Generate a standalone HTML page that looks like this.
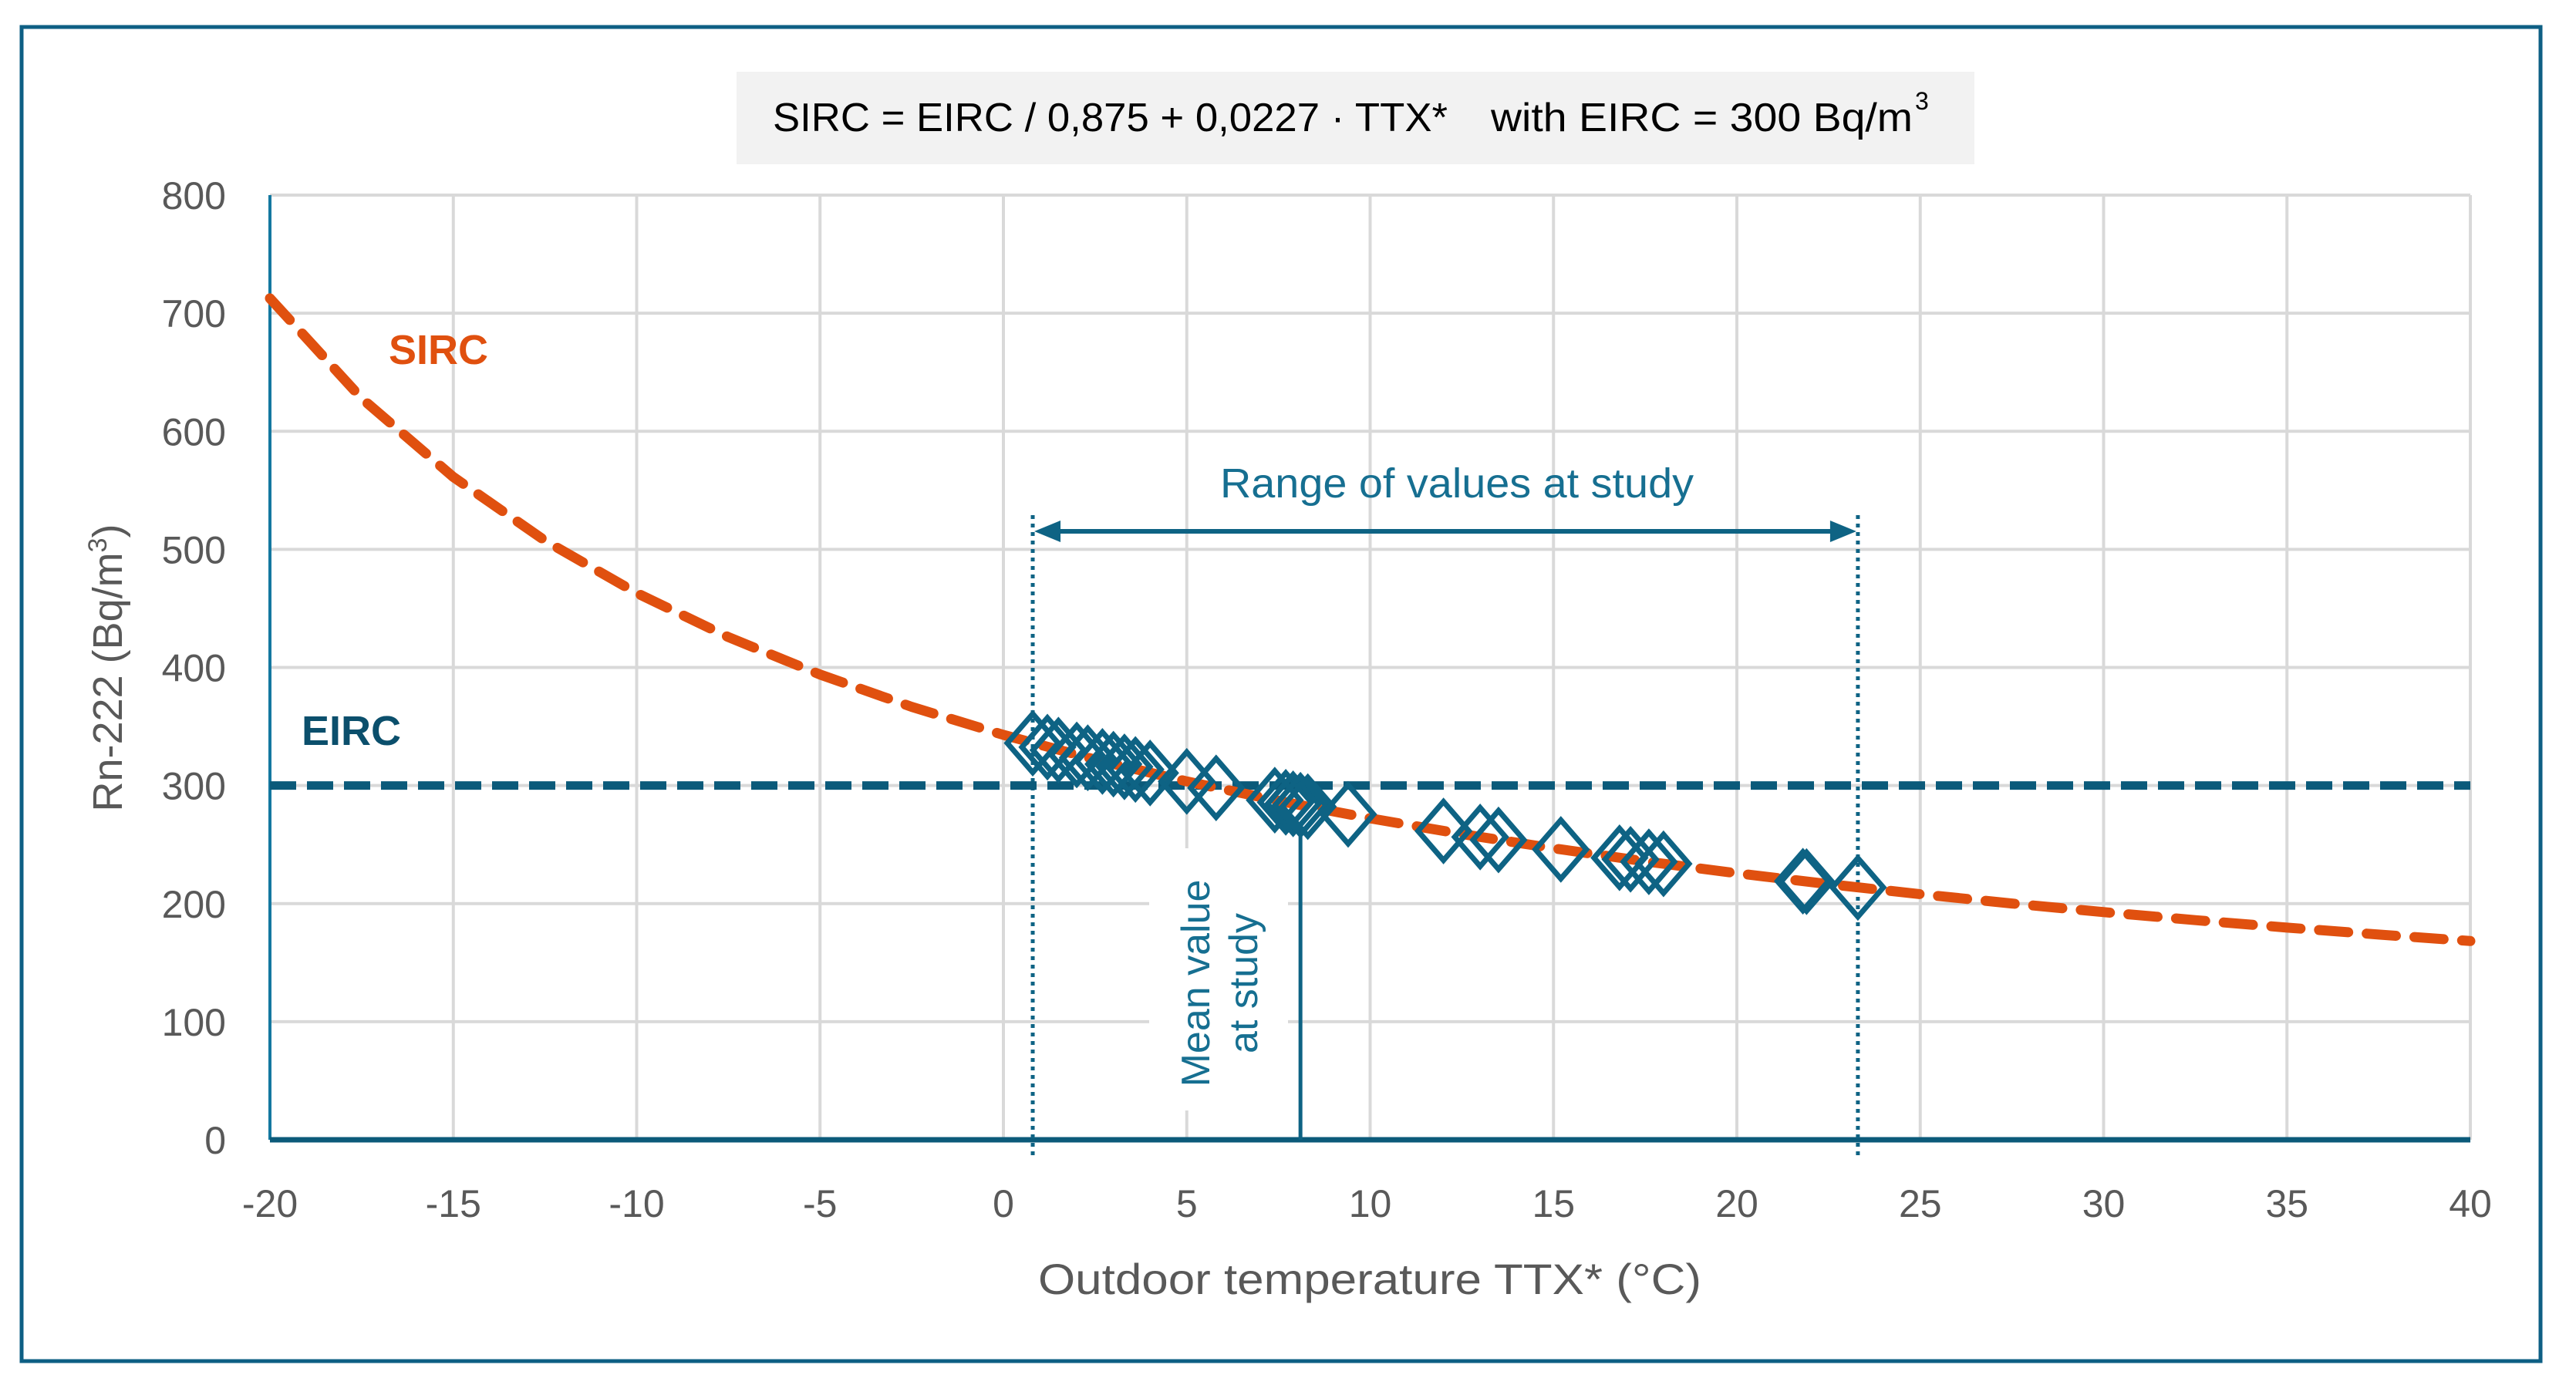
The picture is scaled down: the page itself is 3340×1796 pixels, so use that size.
<!DOCTYPE html>
<html><head><meta charset="utf-8"><style>
html,body{margin:0;padding:0;background:#fff;}
svg{display:block;font-family:"Liberation Sans",sans-serif;}
</style></head><body>
<svg id="chart" width="3340" height="1796" viewBox="0 0 3340 1796" xmlns="http://www.w3.org/2000/svg">
<rect x="28" y="35" width="3266" height="1730" fill="#fff" stroke="#0e5f84" stroke-width="5"/>
<rect x="955" y="93" width="1605" height="120" fill="#f2f2f2"/>
<text x="1002" y="170" font-size="52" fill="#000" textLength="875" lengthAdjust="spacingAndGlyphs">SIRC = EIRC / 0,875 + 0,0227 · TTX*</text>
<text x="1933" y="170" font-size="52" fill="#000" textLength="547" lengthAdjust="spacingAndGlyphs">with EIRC = 300 Bq/m</text>
<text x="2483" y="142" font-size="32" fill="#000">3</text>
<g id="grid"></g>
<g id="axes"></g>
<g id="marks"></g>
<text transform="translate(158,866) rotate(-90)" text-anchor="middle" font-size="54" fill="#595959">Rn-222 (Bq/m<tspan font-size="34" dy="-20">3</tspan><tspan dy="20">)</tspan></text>
<text x="1776" y="1678" text-anchor="middle" font-size="56" fill="#595959" textLength="860" lengthAdjust="spacingAndGlyphs">Outdoor temperature TTX* (°C)</text>
<text x="504" y="472" font-size="54" font-weight="bold" fill="#e0500f">SIRC</text>
<text x="391" y="966" font-size="54" font-weight="bold" fill="#0b4f6c">EIRC</text>
<text x="1889" y="645" text-anchor="middle" font-size="54" fill="#166f91" textLength="614" lengthAdjust="spacingAndGlyphs">Range of values at study</text>
</svg>
<script>
const xTicks = [-20,-15,-10,-5,0,5,10,15,20,25,30,35,40];
const yTicks = [0,100,200,300,400,500,600,700,800];
const sircT = [-20,-17.5,-15,-12.5,-10,-7.5,-5,-2.5,0,2.5,5,7.5,10,12.5,15,17.5,20,22.5,25,27.5,30,32.5,35,37.5,40];
const sircV = [712.6,627.9,561.3,507.4,463.0,425.7,394.0,366.6,342.9,322.0,303.5,287.0,272.2,258.9,246.8,235.8,225.7,216.5,208.0,200.1,192.8,186.0,179.7,173.8,168.3];
const eircValue = 300;
const obsT = [0.8,1.2,1.5,2.0,2.3,2.7,3.0,3.3,3.6,4.0,5.0,5.8,7.4,7.7,7.9,8.1,8.3,9.4,12.0,13.0,13.5,15.2,16.8,17.1,17.6,18.0,21.8,21.9,23.3];
const obsV = [335.9,332.5,330.0,325.9,323.5,320.4,318.1,315.8,313.6,310.6,303.5,298.0,287.6,285.8,284.5,283.3,282.1,275.6,261.5,256.4,253.9,245.9,238.8,237.5,235.4,233.7,219.0,218.6,213.7];
const rangeMin = 0.8, rangeMax = 23.3, meanT = 8.1;

const NS='http://www.w3.org/2000/svg';
const X0=350,X1=3203,Y0=1478,Y1=253;
const xs=v=>X0+(v+20)/60*(X1-X0);
const ys=v=>Y0-v/800*(Y0-Y1);
function mk(tag,attrs,parent){const e=document.createElementNS(NS,tag);for(const k in attrs)e.setAttribute(k,attrs[k]);parent.appendChild(e);return e;}
const grid=document.getElementById('grid'),axes=document.getElementById('axes'),marks=document.getElementById('marks'),svg=document.getElementById('chart');

xTicks.forEach(t=>{
  const l=mk('line',{x1:xs(t),x2:xs(t),y1:Y1,y2:Y0,stroke:'#d9d9d9','stroke-width':4},grid);
  
  
  const tx=mk('text',{x:xs(t),y:1578,'text-anchor':'middle','font-size':50,fill:'#595959'},axes);
  tx.textContent=t;
  
  
});
yTicks.forEach(t=>{
  const l=mk('line',{x1:X0,x2:X1,y1:ys(t),y2:ys(t),stroke:'#d9d9d9','stroke-width':4},grid);
  
  
  const tx=mk('text',{x:293,y:ys(t)+18,'text-anchor':'end','font-size':50,fill:'#595959'},axes);
  tx.textContent=t;
  
  
});
const bg=mk('rect',{x:1490,y:1100,width:180,height:340,fill:'#fff'},grid);



const ya=mk('line',{x1:X0,x2:X0,y1:Y1,y2:Y0,stroke:'#1478a0','stroke-width':4},axes);


const xa=mk('line',{x1:X0,x2:X1,y1:Y0,y2:Y0,stroke:'#0b5a7a','stroke-width':7},axes);



[rangeMin,rangeMax].forEach(t=>{
  const l=mk('line',{x1:xs(t),x2:xs(t),y1:668,y2:1502,stroke:'#0e6384','stroke-width':5,'stroke-dasharray':'5 6'},marks);
  
  
});
const ay=689;
const ar=mk('line',{x1:xs(rangeMin)+10,x2:xs(rangeMax)-10,y1:ay,y2:ay,stroke:'#0e6384','stroke-width':6},marks);


const h1=mk('path',{d:`M${xs(rangeMin)+2},${ay} l34,-14 l0,28 z`,fill:'#0e6384'},marks);


const h2=mk('path',{d:`M${xs(rangeMax)-2},${ay} l-34,-14 l0,28 z`,fill:'#0e6384'},marks);



const el=mk('line',{x1:X0,x2:X1,y1:ys(eircValue),y2:ys(eircValue),stroke:'#0b5a7a','stroke-width':11,'stroke-dasharray':'34 14'},marks);



const pts=sircT.map((t,i)=>xs(t)+','+ys(sircV[i])).join(' ');
const sc=mk('polyline',{points:pts,fill:'none',stroke:'#e0500f','stroke-width':13,'stroke-dasharray':'38 24','stroke-linecap':'round','stroke-linejoin':'round'},marks);



const ml=mk('line',{x1:xs(meanT),x2:xs(meanT),y1:ys(282)+30,y2:Y0,stroke:'#0e6384','stroke-width':5},marks);



obsT.forEach((t,i)=>{
  const cx=xs(t),cy=ys(obsV[i]);
  const d=mk('path',{d:`M${cx},${cy-38} L${cx+33},${cy} L${cx},${cy+38} L${cx-33},${cy} Z`,fill:'none',stroke:'#0e6384','stroke-width':7},marks);
  
  
});

const mt=mk('text',{transform:'translate(1568,1275) rotate(-90)','text-anchor':'middle','font-size':52,fill:'#166f91'},svg);


const s1=mk('tspan',{x:0,dy:0},mt);s1.textContent='Mean value';
const s2=mk('tspan',{x:0,dy:62},mt);s2.textContent='at study';
</script>
</body></html>
